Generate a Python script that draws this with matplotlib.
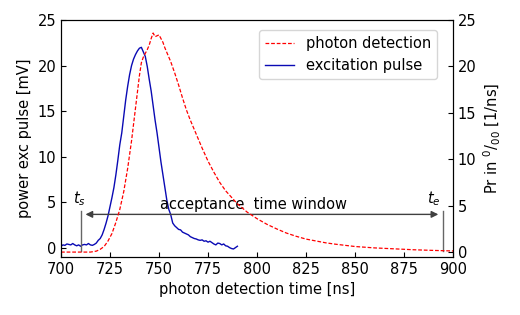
import matplotlib
matplotlib.use("Agg")
import matplotlib.pyplot as plt

# photon detection (right axis, per mille per ns)
photon_t = [700, 715, 718, 720, 722, 724, 726, 728, 730, 732, 734, 736, 738, 740,
            741, 742, 743, 744, 745, 746, 747, 748, 749, 750, 751, 752, 753, 754,
            756, 758, 760, 762, 764, 766, 768, 770, 772, 775, 778, 781, 784, 787,
            790, 795, 800, 805, 810, 815, 820, 825, 830, 835, 840, 850, 860, 870,
            880, 890, 900]
photon_v = [0.0, 0.0, 0.1, 0.3, 0.6, 1.2, 2.0, 3.2, 4.6, 6.5, 9.0, 12.0, 15.5, 19.0,
            20.4, 21.0, 21.4, 21.8, 22.3, 23.0, 23.6, 23.2, 23.3, 23.4, 23.0, 22.6, 22.0, 21.5,
            20.5, 19.3, 18.0, 16.6, 15.3, 14.2, 13.2, 12.2, 11.2, 9.8, 8.6, 7.5, 6.6, 5.9,
            5.2, 4.3, 3.6, 3.0, 2.5, 2.05, 1.7, 1.4, 1.2, 1.0, 0.85, 0.6, 0.45, 0.35,
            0.25, 0.18, 0.12]

# excitation pulse (left axis, mV)
pulse_t = list(range(700, 791))
pulse_v = [0.15, 0.3, 0.25, 0.4, 0.35, 0.3, 0.45, 0.3, 0.2, 0.3,
           0.15, 0.3, 0.35, 0.3, 0.45, 0.3, 0.25, 0.35, 0.5, 0.8,
           1.0, 1.4, 2.0, 2.7, 3.5, 4.5, 5.5, 6.6, 8.0, 9.6,
           11.3, 12.6, 14.4, 16.2, 17.7, 19.0, 20.0, 20.7, 21.2, 21.6,
           21.9, 22.0, 21.5, 21.0, 19.9, 18.5, 17.2, 15.6, 14.0, 12.6,
           11.0, 9.4, 8.0, 6.6, 5.2, 4.2, 3.6, 2.7, 2.4, 2.2,
           2.0, 1.95, 1.7, 1.6, 1.5, 1.4, 1.2, 1.1, 1.0, 0.95,
           0.85, 0.8, 0.85, 0.7, 0.75, 0.6, 0.7, 0.55, 0.4, 0.3,
           0.5, 0.45, 0.3, 0.4, 0.2, 0.15, 0.0, -0.1, -0.15, 0.0,
           0.15]

x_ticks = [700, 725, 750, 775, 800, 825, 850, 875, 900]
y_ticks = [0, 5, 10, 15, 20, 25]
t_start = 710
t_end = 895

FS = 10.5

fig = plt.figure(figsize=(5.2, 3.15), dpi=100)
ax = fig.add_axes([0.1173, 0.185, 0.8712 - 0.1173, 0.9365 - 0.185])
ax2 = ax.twinx()

lp, = ax.plot(pulse_t, pulse_v, color='#0a0ab4', lw=1.0, label='excitation pulse')
lr, = ax2.plot(photon_t, photon_v, color='red', lw=0.9, ls='--', dashes=(3, 1.5),
               label='photon detection')

ax.set_xlim(700, 900)
ax.set_ylim(-1, 25)
ax2.set_ylim(-0.5, 25)
ax.set_xticks(x_ticks)
ax.set_yticks(y_ticks)
ax2.set_yticks(y_ticks)

ax.tick_params(direction='in', labelsize=FS, top=False, right=False)
ax2.tick_params(direction='in', labelsize=FS)

ax.set_xlabel('photon detection time [ns]', fontsize=FS)
ax.set_ylabel('power exc pulse [mV]', fontsize=FS)
ax2.set_ylabel(r'Pr in $^0/_{00}$ [1/ns]', fontsize=FS)

# acceptance window markers (left axis units)
ax.plot([t_start, t_start], [-0.4, 4.0], color='0.4', lw=1.0)
ax.plot([t_end, t_end], [-0.4, 4.0], color='0.4', lw=1.0)
ax.annotate('', xy=(712.5, 3.65), xytext=(892.5, 3.65),
            arrowprops=dict(arrowstyle='<|-|>', color='0.25', lw=1.0,
                            shrinkA=0, shrinkB=0, mutation_scale=10))
ax.text(798, 3.95, 'acceptance  time window', fontsize=FS, ha='center', va='bottom')
ax.text(709.5, 4.4, r'$t_s$', fontsize=FS, ha='center', va='bottom')
ax.text(890, 4.4, r'$t_e$', fontsize=FS, ha='center', va='bottom')

ax2.legend([lr, lp], ['photon detection', 'excitation pulse'], loc='upper right',
           bbox_to_anchor=(0.959, 0.958), borderaxespad=0, fontsize=FS)

fig.savefig('out.png', dpi=100)
